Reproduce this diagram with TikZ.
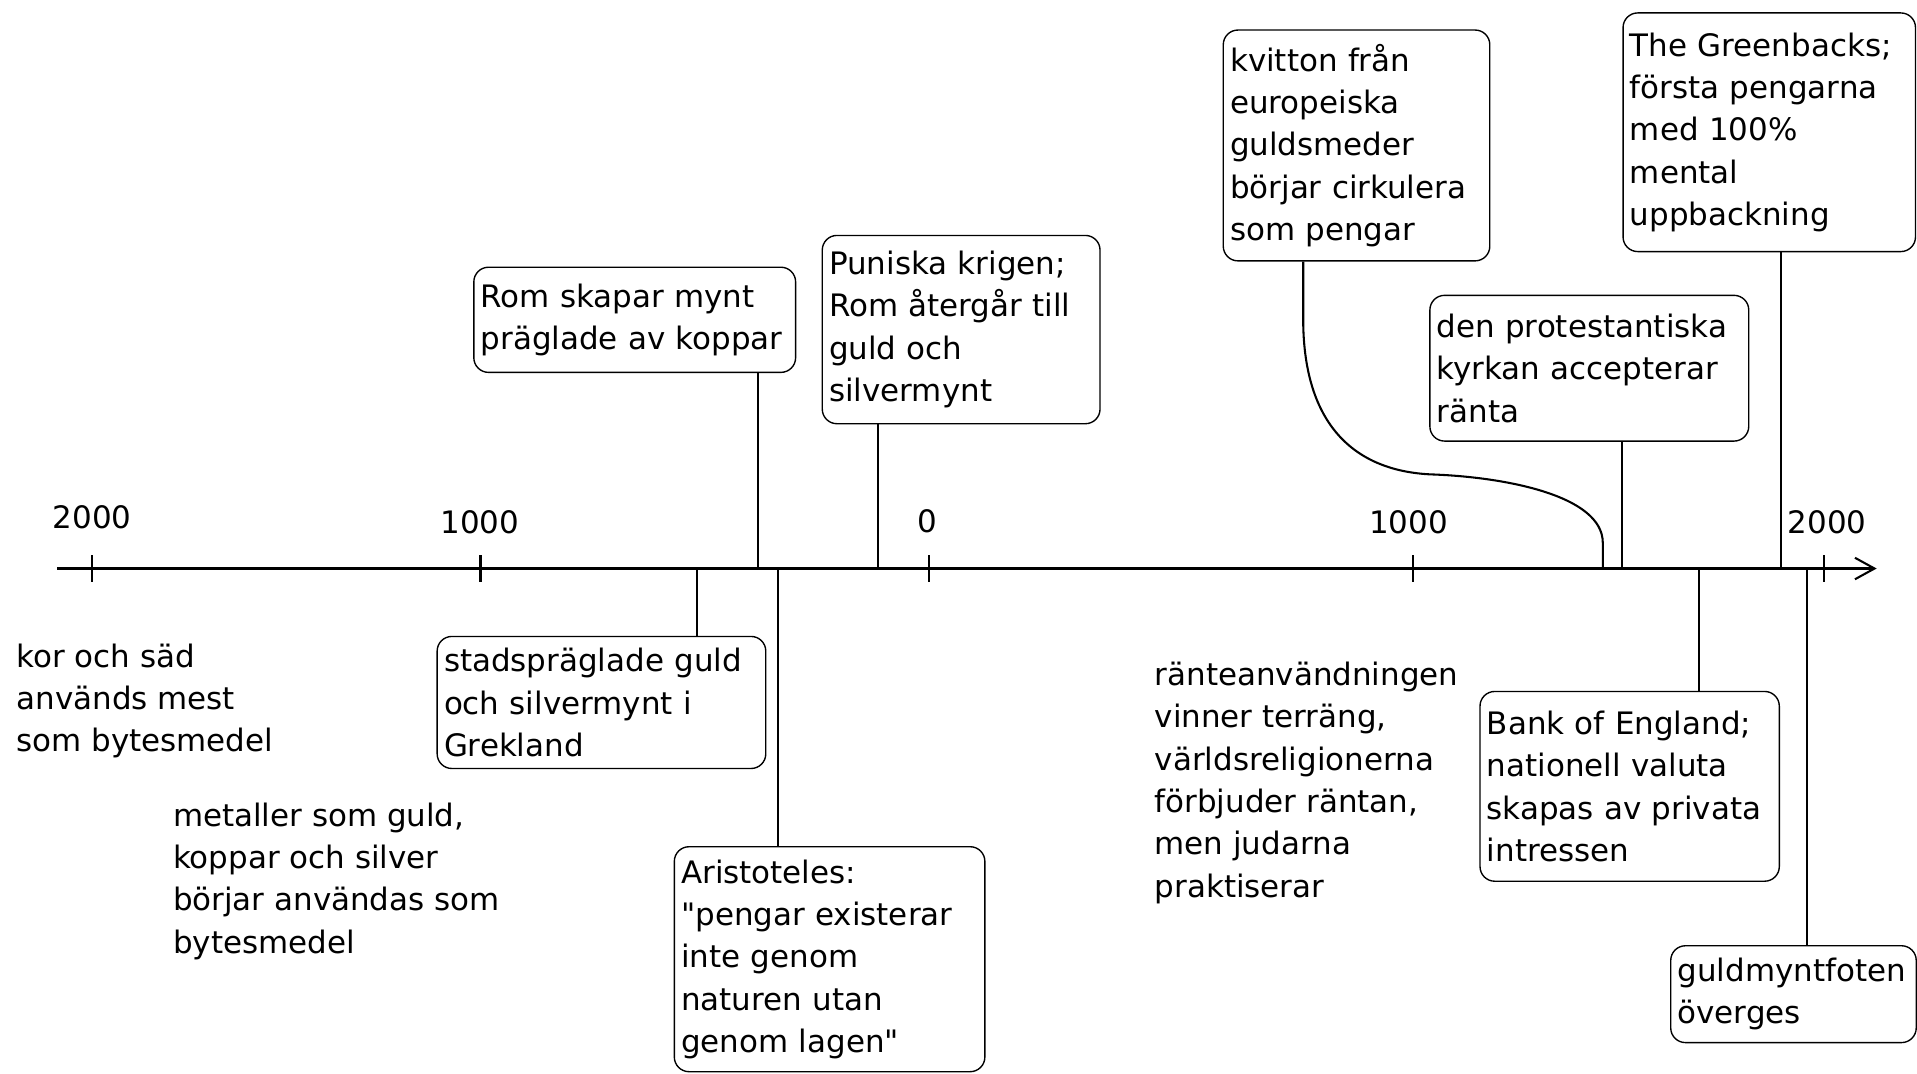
\documentclass[tikz,border=0pt]{standalone}
\usepackage{fontspec}
\newfontfamily\tlfont{DejaVu Sans}
\usetikzlibrary{arrows.meta}

\begin{document}
\begin{tikzpicture}[x=0.125mm,y=-0.125mm,
    ev/.style={draw,rounded corners=1.5mm,anchor=north west,align=left,inner xsep=0.7mm,inner ysep=0.8mm,font=\tlfont\fontsize{9}{12.3}\selectfont},
    fr/.style={anchor=north west,align=left,inner sep=0pt,font=\tlfont\fontsize{9}{12.3}\selectfont},
    yr/.style={inner sep=1pt,font=\tlfont\fontsize{9}{12.3}\selectfont},
    ln/.style={line width=0.6pt},
    ax/.style={line width=0.6pt,-{Straight Barb[length=2mm,width=2.2mm]}}]
    \fill[white] (0,0) rectangle (1568,878);
    \useasboundingbox (0,0) rectangle (1568,878);
    % time axis
    \coordinate (ax0) at (47,465);
    \coordinate (ax1) at (1535,465);
    \draw[ax] (ax0) -- (ax1);
    \foreach \x/\lx/\ly/\lbl [count=\i] in {75/75.5/423/2000,393/392.5/427/1000,760/758.5/426/0,1156/1152/427/1000,1492/1494.5/427/2000} {
      \coordinate (t\i) at (\x,465);
      \draw[ln] ([yshift=-11*0.125mm]t\i) -- ([yshift=11*0.125mm]t\i);
      \node[yr] (y\i) at (\lx,\ly) {\lbl};
    }
    % events above the axis
    \node[ev,text width=31.5mm,minimum height=10.75mm] (rom) at (387,218) {Rom skapar mynt\\präglade av koppar};
    \node[ev,text width=27mm,minimum height=19.25mm] (pun) at (672,192) {Puniska krigen;\\Rom återgår till\\guld och\\silvermynt};
    \node[ev,text width=25.85mm,minimum height=23.6mm] (kvi) at (1000,24) {kvitton från\\europeiska\\guldsmeder\\börjar cirkulera\\som pengar};
    \node[ev,text width=31.2mm,minimum height=14.9mm] (pro) at (1169,241) {den protestantiska\\kyrkan accepterar\\ränta};
    \node[ev,text width=28.5mm,minimum height=24.4mm] (grb) at (1327,10) {The Greenbacks;\\första pengarna\\med 100\%\\mental\\uppbackning};
    % events below the axis
    \node[ev,text width=32.2mm,minimum height=13.5mm] (gre) at (357,520) {stadspräglade guld\\och silvermynt i\\Grekland};
    \node[ev,text width=30.35mm,minimum height=23mm] (ari) at (551,692) {Aristoteles:\\"pengar existerar\\inte genom\\naturen utan\\genom lagen"};
    \node[ev,text width=29.2mm,minimum height=19.4mm] (boe) at (1210,565) {Bank of England;\\nationell valuta\\skapas av privata\\intressen};
    \node[ev,text width=23.7mm,minimum height=9.9mm] (gmf) at (1366,773) {guldmyntfoten\\överges};
    % free texts
    \node[fr] (kor) at (13,526) {kor och säd\\används mest\\som bytesmedel};
    \node[fr] (met) at (141,656) {metaller som guld,\\koppar och silver\\börjar användas som\\bytesmedel};
    \node[fr] (rnt) at (944,541) {ränteanvändningen\\vinner terräng,\\världsreligionerna\\förbjuder räntan,\\men judarna\\praktiserar};
    % connectors
    \foreach \n/\x in {rom/620,pun/718,pro/1327,grb/1457} {
      \coordinate (a-\n) at (\x,465);
      \draw[ln] (\n.south -| a-\n) -- (a-\n);
    }
    \foreach \n/\x in {gre/570,ari/636,boe/1390,gmf/1478} {
      \coordinate (a-\n) at (\x,465);
      \draw[ln] (a-\n) -- (\n.north -| a-\n);
    }
    \coordinate (k-top) at (1066,0);
    \coordinate (a-kvi) at (1311,465);
    \draw[ln] (kvi.south -| k-top) -- (1066,267) .. controls (1068,350) and (1110,385) .. (1170,388)
      .. controls (1230,390) and (1311,405) .. (1311,444) -- (a-kvi);
\end{tikzpicture}
\end{document}
